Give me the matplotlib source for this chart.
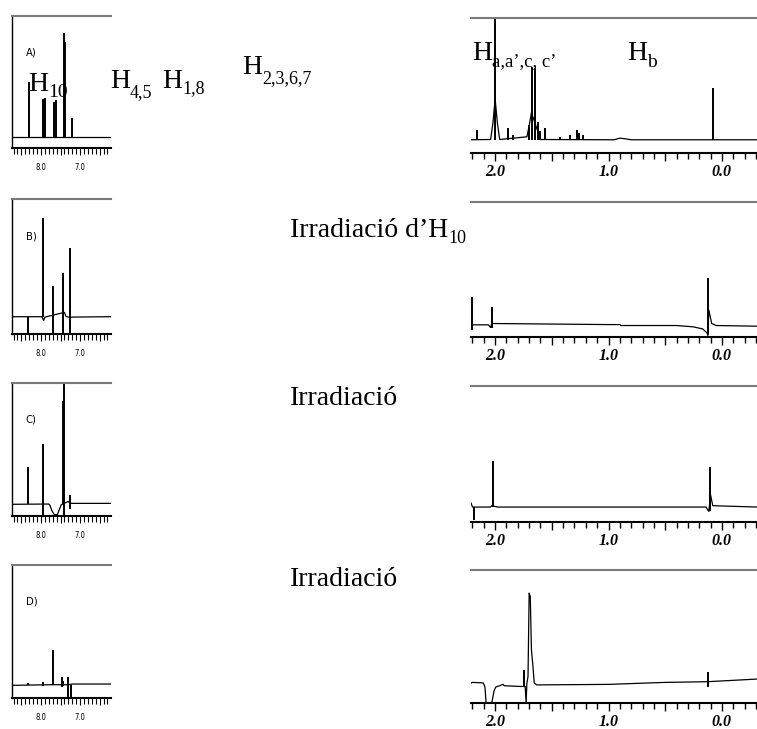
import matplotlib
matplotlib.use("Agg")
import matplotlib.pyplot as plt
from matplotlib.ticker import MultipleLocator

# ---------------- data (ppm, relative intensity 0..1 of panel height) ----------------
# Left panels (aromatic region)
LA_base_x = [8.74, 6.21]
LA_base_y = [0.083, 0.083]
LA_pk_x = [8.30, 7.94, 7.90, 7.67, 7.62, 7.41, 7.38, 7.20]
LA_pk_lo = [0.083] * 8
LA_pk_hi = [0.50, 0.37, 0.38, 0.35, 0.36, 0.87, 0.80, 0.23]

LB_base_x = [8.74, 7.98, 7.93, 7.90, 7.40, 7.36, 7.30, 6.21]
LB_base_y = [0.128, 0.128, 0.100, 0.125, 0.16, 0.13, 0.125, 0.128]
LB_pk_x = [8.33, 7.96, 7.68, 7.44, 7.26]
LB_pk_lo = [0.007, 0.128, 0.007, 0.007, 0.007]
LB_pk_hi = [0.128, 0.861, 0.356, 0.45, 0.635]

LC_base_x = [8.74, 7.80, 7.77, 7.72, 7.66, 7.58, 7.53, 7.48, 7.44, 7.30, 7.26, 6.21]
LC_base_y = [0.088, 0.090, 0.080, 0.040, 0.010, 0.010, 0.050, 0.085, 0.090, 0.110, 0.095, 0.095]
LC_pk_x = [8.33, 7.94, 7.41, 7.44, 7.26]
LC_pk_lo = [0.088, 0.0, 0.0, 0.09, 0.05]
LC_pk_hi = [0.366, 0.541, 1.0, 0.867, 0.158]

LD_base_x = [8.74, 7.72, 7.30, 7.20, 6.21]
LD_base_y = [0.095, 0.100, 0.100, 0.105, 0.105]
LD_pk_x = [8.33, 7.96, 7.70, 7.47, 7.43, 7.32, 7.24]
LD_pk_lo = [0.095, 0.09, 0.10, 0.08, 0.09, 0.0, 0.0]
LD_pk_hi = [0.11, 0.12, 0.363, 0.155, 0.13, 0.155, 0.10]

# Right panels (aliphatic region)
RA_base_x = [2.213, 2.04, 2.02, 2.0, 1.98, 1.96, 1.72, 1.70, 1.68, 1.62, 1.60,
             0.95, 0.90, 0.85, 0.80, -0.31]
RA_base_y = [0.098, 0.10, 0.22, 0.40, 0.22, 0.10, 0.12, 0.20, 0.30, 0.15, 0.10,
             0.098, 0.11, 0.105, 0.098, 0.098]
RA_pk_x = [2.157, 2.0, 1.883, 1.84, 1.70, 1.677, 1.648, 1.619, 1.60, 1.56,
           1.427, 1.339, 1.28, 1.257, 1.222, 0.08]
RA_pk_lo = [0.098] * 16
RA_pk_hi = [0.167, 1.05, 0.184, 0.13, 0.209, 0.639, 0.63, 0.233, 0.16, 0.184,
            0.122, 0.135, 0.172, 0.15, 0.13, 0.48]

RB_base_x = [2.213, 2.06, 2.04, 2.03, 1.0, 0.90, 0.89, 0.40, 0.25, 0.17, 0.13,
             0.124, 0.115, 0.09, 0.05, -0.31]
RB_base_y = [0.09, 0.09, 0.07, 0.10, 0.092, 0.092, 0.085, 0.085, 0.075, 0.06, 0.03,
             0.013, 0.20, 0.10, 0.085, 0.08]
RB_pk_x = [2.205, 2.03, 0.124]
RB_pk_lo = [0.055, 0.07, 0.013]
RB_pk_hi = [0.298, 0.223, 0.44]

RC_base_x = [2.213, 2.20, 2.04, 2.03, 1.98, 0.14, 0.115, 0.10, 0.08, -0.31]
RC_base_y = [0.14, 0.11, 0.11, 0.12, 0.11, 0.11, 0.078, 0.20, 0.12, 0.11]
RC_pk_x = [2.19, 2.02, 0.103]
RC_pk_lo = [0.017, 0.11, 0.078]
RC_pk_hi = [0.11, 0.45, 0.408]

RD_base_x = [2.213, 2.20, 2.105, 2.09, 2.08, 2.03, 2.01, 1.995, 1.96, 1.93, 1.92,
             1.80, 1.735, 1.727, 1.72, 1.71, 1.70, 1.69, 1.68, 1.668, 1.655, 1.633,
             1.0, 0.5, 0.13, -0.31]
RD_base_y = [0.15, 0.155, 0.151, 0.12, 0.0, 0.0, 0.09, 0.12, 0.13, 0.14, 0.13,
             0.125, 0.124, 0.0, 0.15, 0.20, 0.826, 0.80, 0.40, 0.29, 0.15, 0.136,
             0.14, 0.155, 0.16, 0.18]
RD_pk_x = [1.745, 0.124]
RD_pk_lo = [0.124, 0.12]
RD_pk_hi = [0.25, 0.233]

LEFT_MAJOR = [8.5, 8.0, 7.5, 7.0, 6.5]
LEFT_LABELS = ["", "8.0", "", "7.0", ""]
RIGHT_MAJOR = [2.0, 1.5, 1.0, 0.5, 0.0]
RIGHT_LABELS = ["2.0", "", "1.0", "", "0.0"]
PANEL_LETTERS = ["A)", "B)", "C)", "D)"]

# ---------------- layout ----------------
W, H = 757, 729
fig = plt.figure(figsize=(W / 100, H / 100), dpi=100)
SERIF = "Liberation Serif"


def rect(x0, x1, yt, yb):
    return [x0 / W, 1 - yb / H, (x1 - x0) / W, (yb - yt) / H]


left_rows = [(16, 148), (199, 334), (383, 516), (565, 698)]
right_rows = [(18, 153), (202, 337), (386, 522), (570, 703)]

left_data = [
    (LA_base_x, LA_base_y, LA_pk_x, LA_pk_lo, LA_pk_hi),
    (LB_base_x, LB_base_y, LB_pk_x, LB_pk_lo, LB_pk_hi),
    (LC_base_x, LC_base_y, LC_pk_x, LC_pk_lo, LC_pk_hi),
    (LD_base_x, LD_base_y, LD_pk_x, LD_pk_lo, LD_pk_hi),
]
right_data = [
    (RA_base_x, RA_base_y, RA_pk_x, RA_pk_lo, RA_pk_hi),
    (RB_base_x, RB_base_y, RB_pk_x, RB_pk_lo, RB_pk_hi),
    (RC_base_x, RC_base_y, RC_pk_x, RC_pk_lo, RC_pk_hi),
    (RD_base_x, RD_base_y, RD_pk_x, RD_pk_lo, RD_pk_hi),
]


def setup(ax, xlim, majors, labels, left_spine, big):
    ax.set_xlim(*xlim)
    ax.set_ylim(0, 1)
    ax.patch.set_alpha(0)
    ax.spines["right"].set_visible(False)
    ax.spines["left"].set_visible(left_spine)
    ax.spines["left"].set_linewidth(1.0)
    ax.spines["top"].set_color("#7a7a7a")
    ax.spines["top"].set_linewidth(1.5)
    ax.spines["bottom"].set_linewidth(1.5)
    ax.set_yticks([])
    ax.set_xticks(majors)
    ax.xaxis.set_minor_locator(MultipleLocator(0.1))
    if big:
        ax.set_xticklabels(labels, fontfamily=SERIF, fontstyle="italic",
                           fontweight="bold", fontsize=11.5)
        ax.tick_params(axis="x", which="major", length=6, width=1, pad=2)
        ax.tick_params(axis="x", which="minor", length=4, width=1)
    else:
        ax.set_xticklabels(labels, fontfamily="DejaVu Sans", fontstretch="condensed",
                           fontsize=5.5)
        ax.tick_params(axis="x", which="major", length=5, width=0.8, pad=6)
        ax.tick_params(axis="x", which="minor", length=4, width=0.8)


for (yt, yb), (bx, by, px, plo, phi), letter in zip(left_rows, left_data, PANEL_LETTERS):
    ax = fig.add_axes(rect(12, 111, yt, yb))
    setup(ax, (8.74, 6.21), LEFT_MAJOR, LEFT_LABELS, True, False)
    ax.plot(bx, by, color="black", lw=0.9)
    ax.vlines(px, plo, phi, color="black", lw=1.4)
    ax.text(0.14, 0.70, letter, transform=ax.transAxes, fontsize=8,
            fontfamily="DejaVu Sans", fontstretch="condensed", va="baseline")

for (yt, yb), (bx, by, px, plo, phi) in zip(right_rows, right_data):
    ax = fig.add_axes(rect(471, 757, yt, yb))
    setup(ax, (2.213, -0.31), RIGHT_MAJOR, RIGHT_LABELS, False, True)
    ax.plot(bx, by, color="black", lw=0.9)
    ax.vlines(px, plo, phi, color="black", lw=1.4)

# ---------------- annotation texts (pixel coordinates) ----------------
axf = fig.add_axes([0, 0, 1, 1])
axf.set_xlim(0, W)
axf.set_ylim(H, 0)
axf.axis("off")


def label(x, y, main, sub, size, subsize, drop):
    t = axf.text(x, y, main, fontsize=size, fontfamily=SERIF, va="baseline", ha="left")
    if sub:
        axf.annotate(sub, xy=(1.0, y + drop), xycoords=(t, "data"), fontsize=subsize,
                     fontfamily=SERIF, va="baseline", ha="left")
    return t


label(28, 91, "H", "10", 20, 14, 6)
label(110, 88, "H", "4,5", 20, 13, 9)
label(162, 88, "H", "1,8", 20, 13, 5)
label(242, 74, "H", "2,3,6,7", 20, 13, 9)
label(472, 60, "H", "a,a\u2019,c, c\u2019", 20, 13.5, 6)
label(627, 60, "H", "b", 20, 14, 7)
label(290, 237, "Irradiació d\u2019H", "10", 20, 13, 6)
label(290, 405, "Irradiació", None, 20, 13, 6)
label(290, 586, "Irradiació", None, 20, 13, 6)

fig.savefig("out.png", dpi=100)
